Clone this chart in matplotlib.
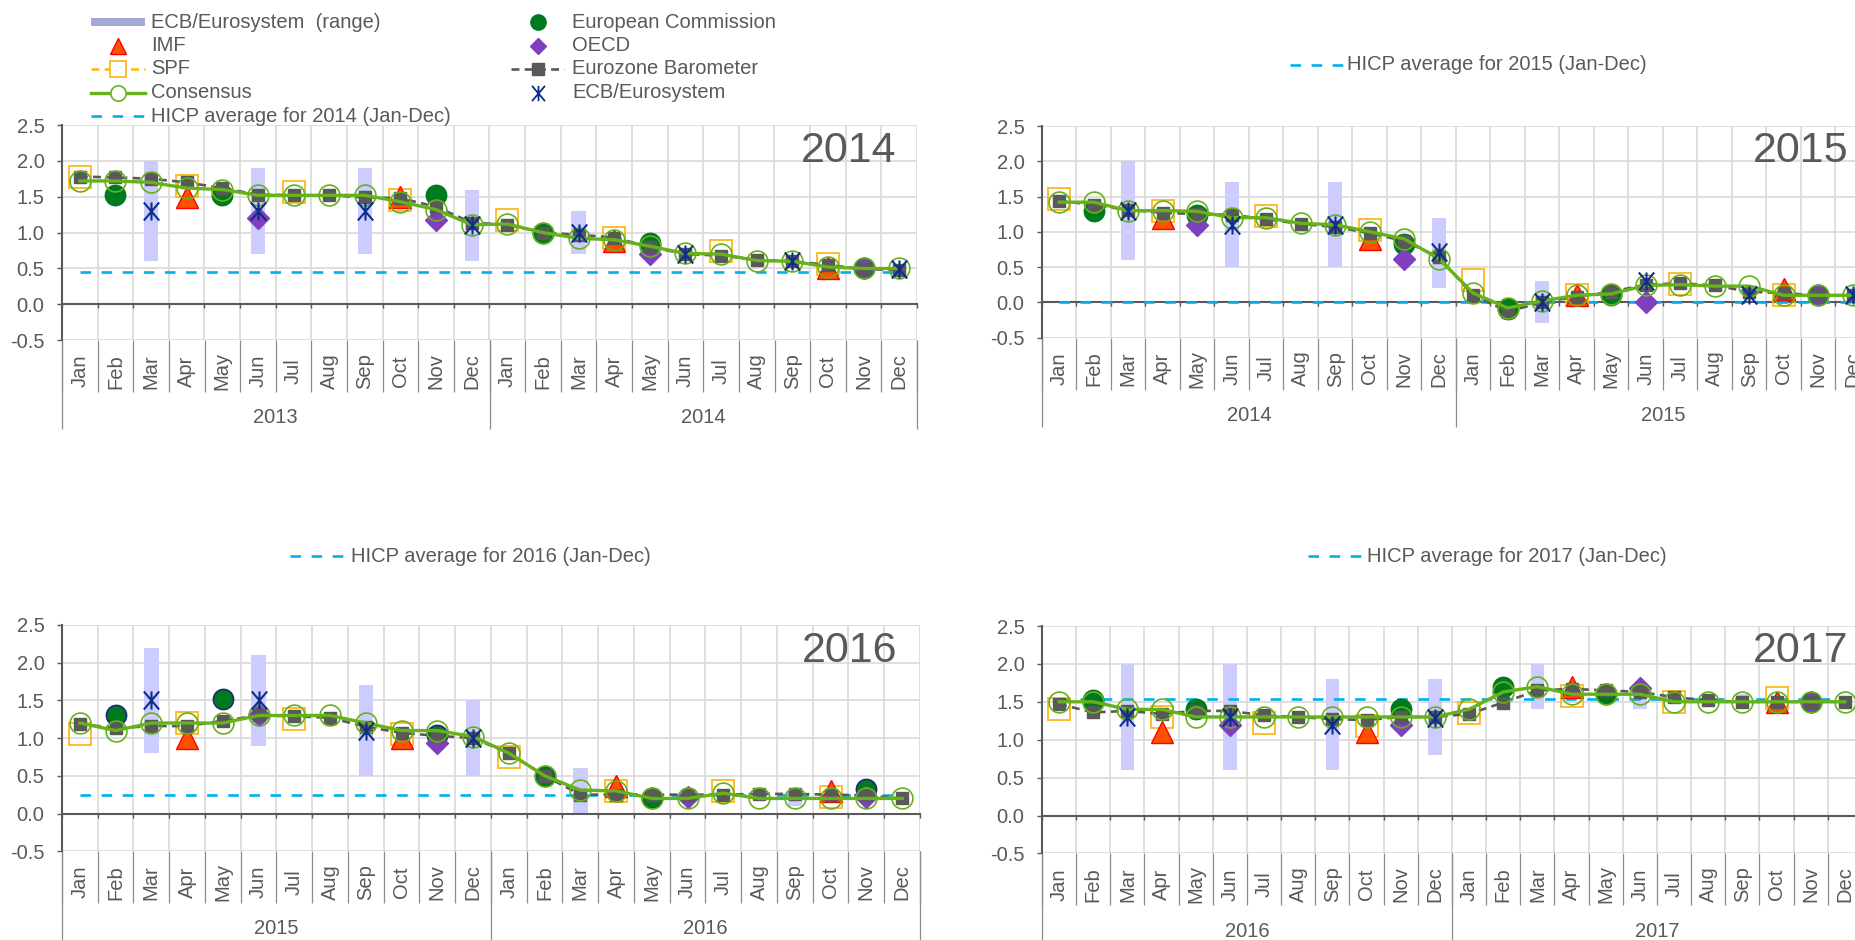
import numpy as np
import matplotlib
matplotlib.use("Agg")
import matplotlib.pyplot as plt
from matplotlib.lines import Line2D
from matplotlib.patches import Rectangle
from matplotlib.path import Path

plt.rcParams['font.family'] = ['Liberation Sans', 'DejaVu Sans']

N = None
months = ['Jan', 'Feb', 'Mar', 'Apr', 'May', 'Jun', 'Jul', 'Aug', 'Sep', 'Oct', 'Nov', 'Dec']

# ---------------- forecasts for 2014 (Jan 2013 - Dec 2014) ----------------
years_2014 = ['2013', '2014']
hicp_2014 = 0.45
consensus_2014 = [1.72, 1.72, 1.7, 1.62, 1.6, 1.52, 1.52, 1.52, 1.52, 1.43, 1.32, 1.11,
                  1.12, 1.0, 0.92, 0.9, 0.81, 0.71, 0.7, 0.61, 0.6, 0.52, 0.5, 0.5]
barometer_2014 = [1.78, 1.77, 1.75, 1.7, 1.62, 1.53, 1.52, 1.52, 1.49, 1.48, 1.36, 1.14,
                  1.11, 1.0, 0.97, 0.93, 0.8, 0.7, 0.68, 0.62, 0.6, 0.55, 0.49, 0.48]
spf_2014 = [1.78, N, N, 1.65, N, N, 1.56, N, N, 1.45, N, N,
            1.17, N, N, 0.92, N, N, 0.74, N, N, 0.56, N, N]
ec_2014 = [N, 1.52, N, N, 1.52, N, N, N, N, N, 1.53, N,
           N, 1.0, N, N, 0.85, N, N, N, N, N, 0.5, N]
imf_2014 = [N, N, N, 1.5, N, N, N, N, N, 1.5, N, N,
            N, N, N, 0.88, N, N, N, N, N, 0.5, N, N]
oecd_2014 = [N, N, N, N, N, 1.2, N, N, N, N, 1.17, N,
             N, N, N, N, 0.7, N, N, N, N, N, 0.5, N]
ecb_2014 = [N, N, 1.3, N, N, 1.3, N, N, 1.3, N, N, 1.1,
            N, N, 1.0, N, N, 0.7, N, N, 0.6, N, N, 0.49]
ecb_lo_2014 = [N, N, 0.6, N, N, 0.7, N, N, 0.7, N, N, 0.6,
               N, N, 0.7, N, N, N, N, N, 0.55, N, N, N]
ecb_hi_2014 = [N, N, 2.0, N, N, 1.9, N, N, 1.9, N, N, 1.6,
               N, N, 1.3, N, N, N, N, N, 0.65, N, N, N]

# ---------------- forecasts for 2015 (Jan 2014 - Dec 2015) ----------------
years_2015 = ['2014', '2015']
hicp_2015 = 0.01
consensus_2015 = [1.42, 1.42, 1.3, 1.3, 1.29, 1.2, 1.2, 1.12, 1.1, 1.0, 0.9, 0.62,
                  0.13, -0.08, 0.02, 0.1, 0.12, 0.24, 0.25, 0.23, 0.23, 0.1, 0.1, 0.1]
barometer_2015 = [1.44, 1.38, 1.31, 1.27, 1.25, 1.24, 1.18, 1.11, 1.07, 0.98, 0.87, 0.64,
                  0.1, -0.13, 0.0, 0.08, 0.15, 0.25, 0.27, 0.24, 0.15, 0.13, 0.1, 0.1]
spf_2015 = [1.46, N, N, 1.3, N, N, 1.22, N, N, 1.02, N, N,
            0.32, N, N, 0.1, N, N, 0.26, N, N, 0.1, N, N]
ec_2015 = [N, 1.3, N, N, 1.24, N, N, N, N, N, 0.82, N,
           N, -0.1, N, N, 0.11, N, N, N, N, N, 0.1, N]
imf_2015 = [N, N, N, 1.2, N, N, N, N, N, 0.9, N, N,
            N, N, N, 0.1, N, N, N, N, N, 0.19, N, N]
oecd_2015 = [N, N, N, N, 1.1, N, N, N, N, N, 0.62, N,
             N, N, N, N, N, 0.0, N, N, N, N, 0.1, N]
ecb_2015 = [N, N, 1.3, N, N, 1.1, N, N, 1.1, N, N, 0.71,
            N, N, 0.0, N, N, 0.3, N, N, 0.1, N, N, 0.1]
ecb_lo_2015 = [N, N, 0.6, N, N, 0.5, N, N, 0.5, N, N, 0.2,
               N, N, -0.3, N, N, N, N, N, N, N, N, N]
ecb_hi_2015 = [N, N, 2.0, N, N, 1.7, N, N, 1.7, N, N, 1.2,
               N, N, 0.3, N, N, N, N, N, N, N, N, N]

# ---------------- forecasts for 2016 (Jan 2015 - Dec 2016) ----------------
years_2016 = ['2015', '2016']
hicp_2016 = 0.24
consensus_2016 = [1.2, 1.1, 1.2, 1.2, 1.2, 1.3, 1.3, 1.3, 1.2, 1.1, 1.1, 1.02,
                  0.8, 0.5, 0.31, 0.3, 0.2, 0.2, 0.27, 0.2, 0.2, 0.2, 0.2, 0.2]
barometer_2016 = [1.19, 1.13, 1.16, 1.16, 1.23, 1.3, 1.29, 1.27, 1.15, 1.07, 1.03, 1.0,
                  0.8, 0.5, 0.25, 0.25, 0.25, 0.25, 0.25, 0.26, 0.26, 0.25, 0.24, 0.2]
spf_2016 = [1.05, N, N, 1.2, N, N, 1.25, N, N, 1.05, N, N,
            0.75, N, N, 0.3, N, N, 0.3, N, N, 0.22, N, N]
ec_2016 = [N, 1.3, N, N, 1.52, N, N, N, N, N, 1.04, N,
           N, 0.5, N, N, 0.2, N, N, N, N, N, 0.32, N]
imf_2016 = [N, N, N, 1.0, N, N, N, N, N, 1.0, N, N,
            N, N, N, 0.36, N, N, N, N, N, 0.3, N, N]
oecd_2016 = [N, N, N, N, N, 1.3, N, N, N, N, 0.93, N,
             N, N, N, N, N, 0.22, N, N, N, N, 0.22, N]
ecb_2016 = [N, N, 1.5, N, N, 1.5, N, N, 1.1, N, N, 1.0,
            N, N, N, N, N, N, N, N, N, N, N, N]
ecb_lo_2016 = [N, N, 0.8, N, N, 0.9, N, N, 0.5, N, N, 0.5,
               N, N, 0.0, N, N, N, N, N, 0.1, N, N, N]
ecb_hi_2016 = [N, N, 2.2, N, N, 2.1, N, N, 1.7, N, N, 1.5,
               N, N, 0.6, N, N, N, N, N, 0.3, N, N, N]

# ---------------- forecasts for 2017 (Jan 2016 - Dec 2017) ----------------
years_2017 = ['2016', '2017']
hicp_2017 = 1.54
consensus_2017 = [1.5, 1.5, 1.4, 1.4, 1.3, 1.3, 1.3, 1.3, 1.3, 1.3, 1.3, 1.3,
                  1.4, 1.63, 1.7, 1.6, 1.6, 1.6, 1.5, 1.5, 1.5, 1.5, 1.5, 1.5]
barometer_2017 = [1.47, 1.36, 1.38, 1.34, 1.38, 1.38, 1.32, 1.3, 1.27, 1.26, 1.3, 1.3,
                  1.34, 1.49, 1.65, 1.67, 1.65, 1.63, 1.56, 1.52, 1.5, 1.5, 1.5, 1.5]
spf_2017 = [1.4, N, N, 1.3, N, N, 1.22, N, N, 1.18, N, N,
            1.35, N, N, 1.58, N, N, 1.5, N, N, 1.55, N, N]
ec_2017 = [N, 1.52, N, N, 1.4, N, N, N, N, N, 1.4, N,
           N, 1.7, N, N, 1.6, N, N, N, N, N, 1.5, N]
imf_2017 = [N, N, N, 1.1, N, N, N, N, N, 1.1, N, N,
            N, N, N, 1.7, N, N, N, N, N, 1.5, N, N]
oecd_2017 = [N, N, N, N, N, 1.2, N, N, N, N, 1.2, N,
             N, N, N, N, N, 1.68, N, N, N, N, 1.5, N]
ecb_2017 = [N, N, 1.3, N, N, 1.3, N, N, 1.2, N, N, 1.28,
            N, N, N, N, N, N, N, N, N, N, N, N]
ecb_lo_2017 = [N, N, 0.6, N, N, 0.6, N, N, 0.6, N, N, 0.8,
               N, N, 1.4, N, N, 1.4, N, N, 1.45, N, N, N]
ecb_hi_2017 = [N, N, 2.0, N, N, 2.0, N, N, 1.8, N, N, 1.8,
               N, N, 2.0, N, N, 1.7, N, N, 1.6, N, N, N]

# ---------------- style ----------------
TXT = '#595959'
GRID = '#D9D9D9'
SEP = '#8C8C8C'
RANGE = '#CCCCFF'
RANGE_LEG = '#A4A8D8'
GREEN = '#66B21A'
ECG = '#007A1E'
RED_F = '#FF5000'
RED_E = '#FF0000'
ORANGE = '#FFB81C'
PURPLE = '#7F3FBF'
BARO = '#595959'
NAVY = '#0B2E8C'
CYAN = '#00B0F0'
FS = 14.5

# Excel-style "star" marker: vertical bar plus an X
STAR = Path([(0, -1), (0, 1), (-0.85, -1), (0.85, 1), (-0.85, 1), (0.85, -1)],
            [Path.MOVETO, Path.LINETO, Path.MOVETO, Path.LINETO, Path.MOVETO, Path.LINETO])

W, H = 1856, 940
fig = plt.figure(figsize=(W / 100, H / 100), dpi=100)


def fx(px):
    return px / W


def fy(py):
    return 1 - py / H


def arr(v):
    return np.array([np.nan if a is None else a for a in v], dtype=float)


x = np.arange(24)


def draw_panel(rect, title, tpos, years, hicp, consensus, barometer, spf, ec, imf,
               oecd, ecb, ecb_lo, ecb_hi, ec_edge=ECG):
    l, t, r, b = rect
    ax = fig.add_axes([fx(l), fy(b), (r - l) / W, (b - t) / H])
    ax.set_xlim(-0.5, 23.5)
    ax.set_ylim(-0.5, 2.5)
    bounds = np.arange(-0.5, 24, 1.0)
    yt = np.arange(-0.5, 2.51, 0.5)
    ax.set_xticks(bounds)
    ax.set_yticks(yt)
    ax.set_yticklabels([f'{v:.1f}' for v in yt])
    ax.grid(True, color=GRID, lw=1.2)
    ax.set_axisbelow(True)
    for s in ('top', 'right'):
        ax.spines[s].set_visible(False)
    ax.spines['left'].set_color(TXT)
    ax.spines['left'].set_linewidth(1.5)
    ax.spines['bottom'].set_position(('data', 0))
    ax.spines['bottom'].set_color(TXT)
    ax.spines['bottom'].set_linewidth(1.5)
    ax.spines['bottom'].set_zorder(2.2)
    ax.tick_params(axis='y', direction='out', length=3.6, width=1, color=TXT,
                   labelsize=FS, labelcolor=TXT, pad=9)
    ax.tick_params(axis='x', direction='out', length=3, width=1, color=TXT,
                   labelbottom=False)

    lo = arr(ecb_lo)
    hi = arr(ecb_hi)
    m = ~np.isnan(lo)
    ax.bar(x[m], hi[m] - lo[m], bottom=lo[m], width=0.4, color=RANGE, lw=0, zorder=2)
    ax.plot(x, np.full(24, hicp), color=CYAN, lw=1.9, dashes=(4, 4), zorder=3)
    ax.plot(x, arr(spf), ls='none', marker='s', ms=15.5, mfc='none', mec=ORANGE,
            mew=1.3, zorder=4)
    ax.plot(x, arr(imf), ls='none', marker='^', ms=16, mfc=RED_F, mec=RED_E,
            mew=1, zorder=5)
    ax.plot(x, arr(ec), ls='none', marker='o', ms=14.5, mfc=ECG, mec=ec_edge,
            mew=1.2, zorder=6)
    ax.plot(x, arr(oecd), ls='none', marker='D', ms=11, mfc=PURPLE, mec=PURPLE,
            mew=1, zorder=7)
    ax.plot(x, arr(barometer), color=BARO, lw=1.9, dashes=(3, 2), marker='s', ms=9,
            mfc=BARO, mec=BARO, zorder=8)
    ax.plot(x, arr(consensus), color=GREEN, lw=2.4, marker='o', ms=15, mfc='none',
            mec=GREEN, mew=1.2, zorder=9)
    ax.plot(x, arr(ecb), ls='none', marker=STAR, ms=13, mec=NAVY, mew=1.5,
            zorder=10)

    ax.text(tpos[0], tpos[1], title, transform=ax.transAxes, ha='right',
            va='baseline', fontsize=31, color=TXT, zorder=11)

    # month level of the category axis
    sec = ax.secondary_xaxis('bottom')
    for s in sec.spines.values():
        s.set_visible(False)
    sec.set_ticks(bounds, labels=[''] * len(bounds))
    sec.set_ticks(x, labels=months * 2, minor=True)
    sec.tick_params(axis='x', which='major', direction='out', length=37.4,
                    width=0.9, color=SEP)
    sec.tick_params(axis='x', which='minor', length=0, pad=22.3, labelsize=FS,
                    labelcolor=TXT, labelrotation=90)
    for lab in sec.get_xticklabels(minor=True):
        lab.set_va('center')

    # year level of the category axis
    sec2 = ax.secondary_xaxis('bottom')
    for s in sec2.spines.values():
        s.set_visible(False)
    sec2.set_ticks([-0.5, 11.5, 23.5], labels=['', '', ''])
    sec2.set_ticks([5.5, 17.5], labels=years, minor=True)
    sec2.tick_params(axis='x', which='major', direction='out', length=64,
                     width=0.9, color=SEP)
    sec2.tick_params(axis='x', which='minor', length=0, pad=56, labelsize=FS,
                     labelcolor=TXT)
    for lab in sec2.get_xticklabels(minor=True):
        lab.set_va('center')
    return ax


draw_panel((62, 125, 917, 340.2), '2014', (0.9754, 0.828), years_2014, hicp_2014,
           consensus_2014, barometer_2014, spf_2014, ec_2014, imf_2014, oecd_2014,
           ecb_2014, ecb_lo_2014, ecb_hi_2014)
draw_panel((1042, 126, 1870, 337.6), '2015', (0.9738, 0.831), years_2015, hicp_2015,
           consensus_2015, barometer_2015, spf_2015, ec_2015, imf_2015, oecd_2015,
           ecb_2015, ecb_lo_2015, ecb_hi_2015)
draw_panel((62, 625, 920, 851.2), '2016', (0.9732, 0.838), years_2016, hicp_2016,
           consensus_2016, barometer_2016, spf_2016, ec_2016, imf_2016, oecd_2016,
           ecb_2016, ecb_lo_2016, ecb_hi_2016, ec_edge='#1F2A7A')
draw_panel((1042, 626, 1862, 853.4), '2017', (0.9833, 0.843), years_2017, hicp_2017,
           consensus_2017, barometer_2017, spf_2017, ec_2017, imf_2017, oecd_2017,
           ecb_2017, ecb_lo_2017, ecb_hi_2017)


# ---------------- legends ----------------
def leg_line(x0, x1, y, **kw):
    fig.add_artist(Line2D([fx(x0), fx(x1)], [fy(y), fy(y)],
                          transform=fig.transFigure, **kw))


def leg_marker(xc, y, **kw):
    fig.add_artist(Line2D([fx(xc)], [fy(y)], transform=fig.transFigure,
                          ls='none', **kw))


def leg_text(xp, y, s):
    fig.text(fx(xp), fy(y), s, ha='left', va='center', fontsize=FS, color=TXT)


rows = [22, 45.5, 69, 92.5, 116]
c1a, c1b, t1 = 91, 145, 151
c2a, c2b, t2 = 511, 564, 572
m1 = (c1a + c1b) / 2
m2 = (c2a + c2b) / 2

fig.add_artist(Rectangle((fx(c1a), fy(rows[0] + 4)), fx(c1b - c1a), 8 / H,
                         transform=fig.transFigure, color=RANGE_LEG, lw=0))
leg_text(t1, rows[0], 'ECB/Eurosystem  (range)')
leg_marker(m1, rows[1], marker='^', ms=11, mfc=RED_F, mec=RED_E, mew=1)
leg_text(t1, rows[1], 'IMF')
leg_line(c1a, c1b, rows[2], color=ORANGE, lw=1.9, dashes=(3, 2))
leg_marker(m1, rows[2], marker='s', ms=11, mfc='white', mec=ORANGE, mew=1.3)
leg_text(t1, rows[2], 'SPF')
leg_line(c1a, c1b, rows[3], color=GREEN, lw=2.4)
leg_marker(m1, rows[3], marker='o', ms=11, mfc='white', mec=GREEN, mew=1.2)
leg_text(t1, rows[3], 'Consensus')
leg_line(c1a, c1b, rows[4], color=CYAN, lw=1.9, dashes=(4, 4))
leg_text(t1, rows[4], 'HICP average for 2014 (Jan-Dec)')

leg_marker(m2, rows[0], marker='o', ms=11, mfc=ECG, mec=ECG)
leg_text(t2, rows[0], 'European Commission')
leg_marker(m2, rows[1], marker='D', ms=8, mfc=PURPLE, mec=PURPLE)
leg_text(t2, rows[1], 'OECD')
leg_line(c2a, c2b, rows[2], color=BARO, lw=1.9, dashes=(3, 2))
leg_marker(m2, rows[2], marker='s', ms=8, mfc=BARO, mec=BARO)
leg_text(t2, rows[2], 'Eurozone Barometer')
leg_marker(m2, rows[3], marker=STAR, ms=11, mec=NAVY, mew=1.3)
leg_text(t2, rows[3], 'ECB/Eurosystem')

leg_line(1290, 1343, 65, color=CYAN, lw=1.9, dashes=(4, 4))
leg_text(1347, 65, 'HICP average for 2015 (Jan-Dec)')
leg_line(290, 346, 556, color=CYAN, lw=1.9, dashes=(4, 4))
leg_text(351, 556, 'HICP average for 2016 (Jan-Dec)')
leg_line(1308, 1361, 556, color=CYAN, lw=1.9, dashes=(4, 4))
leg_text(1367, 556, 'HICP average for 2017 (Jan-Dec)')

fig.savefig('out.png', dpi=100)
